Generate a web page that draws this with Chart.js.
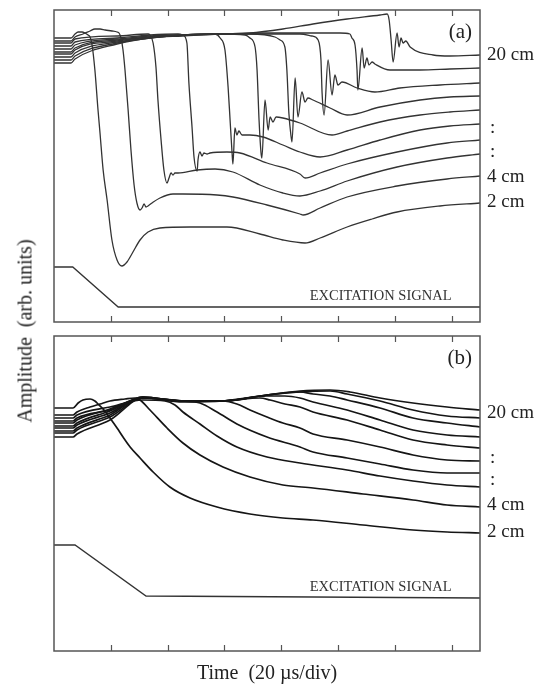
<!DOCTYPE html>
<html>
<head>
<meta charset="utf-8">
<script src="https://cdn.jsdelivr.net/npm/chart.js@4.4.1/dist/chart.umd.min.js"></script>
<style>
  html, body { margin: 0; padding: 0; background: #fff; }
  #wrap { position: relative; width: 545px; height: 689px; font-family: "Liberation Serif", "Times New Roman", serif; color: #222; }
  #chartA { position: absolute; left: 0; top: 0; }
  #chartB { position: absolute; left: 0; top: 330px; }
  #ytitle { position: absolute; left: 25px; top: 331px; transform: translate(-50%, -50%) rotate(-90deg); font-size: 20px; white-space: pre; }
  #xtitle { position: absolute; left: 54px; width: 426px; top: 660px; text-align: center; font-size: 20px; white-space: pre; line-height: 24px; }
</style>
</head>
<body>
<div id="wrap">
  <canvas id="chartA" width="545" height="330"></canvas>
  <canvas id="chartB" width="545" height="359"></canvas>
  <div id="ytitle">Amplitude  (arb. units)</div>
  <div id="xtitle">Time  (20 µs/div)</div>
</div>
<script>
// time in µs (20 µs per division), amplitude in arbitrary units
const timeTicks = [20, 40, 60, 80, 100, 120, 140];

// panel (a) traces, 2 cm ... 20 cm
const a02 = [[0,28.4],[6.0,28.4],[7.4,28.8],[8.5,29.0],[9.9,29.0],[10.9,28.9],[12.0,28.7],[12.7,28.5],[13.4,27.7],[14.4,25.2],[15.5,21.2],[16.2,18.9],[17.3,15.2],[18.7,12.2],[20.4,8.2],[22.2,6.2],[23.9,5.6],[25.7,6.0],[27.8,7.0],[30.3,8.2],[33.1,9.0],[37.3,9.4],[47.9,9.5],[60.9,9.5],[72.5,8.8],[80.6,8.2],[88.4,7.9],[93.7,8.4],[103.2,9.5],[112.0,10.3],[120.8,11.0],[135.9,11.6],[150,11.9]];
const a04 = [[0,28.1],[6.0,28.1],[7.4,28.5],[10.2,28.8],[12.7,29.1],[14.4,29.3],[16.2,29.3],[18.0,29.2],[20.4,29.1],[22.2,29.0],[22.9,28.9],[23.6,28.4],[24.3,27.2],[25.0,25.2],[26.1,21.2],[27.1,17.2],[28.2,13.7],[29.2,11.9],[30.3,11.2],[31.0,11.4],[31.7,11.8],[32.4,11.5],[33.1,11.6],[34.5,11.9],[37.3,12.4],[41.9,12.8],[45.4,12.8],[57.4,12.7],[63.0,12.5],[75.0,11.7],[86.6,10.8],[87.7,10.7],[93.7,11.4],[103.2,12.5],[120.8,13.6],[138.4,14.3],[150,14.6]];
const a06 = [[0,27.9],[6.0,27.9],[7.4,28.3],[22.2,28.6],[33.1,28.8],[33.8,28.7],[34.9,27.9],[35.9,25.5],[36.6,22.2],[37.7,18.2],[38.7,15.2],[39.8,13.9],[40.5,14.4],[41.2,14.9],[41.9,14.7],[42.6,14.9],[43.7,14.9],[50.4,15.2],[56.7,15.3],[63.0,15.0],[72.5,13.7],[80.6,12.9],[86.6,12.6],[93.7,13.1],[103.2,14.1],[120.8,15.5],[138.4,16.4],[150,16.8]];
const a08 = [[0,27.6],[6.0,27.6],[7.4,28.0],[22.2,28.4],[33.8,28.7],[43.7,28.8],[45.4,28.7],[46.8,27.9],[47.5,23.9],[48.6,19.5],[49.3,16.5],[50.4,15.1],[50.7,16.2],[51.4,17.0],[52.1,16.6],[52.8,16.9],[53.9,16.8],[54.9,16.9],[60.9,17.0],[65.5,16.9],[75.0,15.9],[86.6,14.8],[88.4,14.4],[93.7,14.9],[103.2,15.8],[120.8,17.0],[138.4,17.9],[150,18.2]];
const a10 = [[0,27.3],[6.0,27.3],[7.4,27.7],[22.2,28.3],[33.8,28.6],[45.4,28.7],[56.7,28.8],[58.5,28.4],[60.2,27.2],[61.3,23.5],[62.0,20.2],[62.7,16.9],[63.0,15.8],[63.7,19.4],[64.4,18.7],[65.1,19.1],[66.2,18.7],[69.0,18.7],[73.6,18.5],[80.6,17.7],[86.6,17.0],[93.7,16.5],[103.2,17.2],[114.8,18.2],[128.9,19.2],[139.4,19.6],[150,19.8]];
const a12 = [[0,27.0],[6.0,27.0],[7.4,27.4],[22.2,28.2],[33.8,28.5],[45.4,28.7],[58.5,28.8],[67.3,28.7],[69.0,28.4],[70.8,27.5],[71.5,25.2],[72.2,20.2],[72.9,16.9],[73.2,16.4],[74.3,22.2],[75.4,19.2],[76.1,20.5],[77.1,20.0],[78.2,20.5],[80.6,20.4],[86.6,19.9],[97.9,18.7],[103.2,19.1],[114.8,20.0],[128.9,20.7],[139.4,21.0],[150,21.2]];
const a14 = [[0,26.8],[6.0,26.8],[7.4,27.2],[22.2,28.1],[33.8,28.5],[45.4,28.7],[58.5,28.8],[69.0,28.8],[77.8,28.5],[79.6,28.2],[81.3,27.5],[82.0,25.2],[82.7,20.9],[83.5,18.5],[83.8,18.0],[84.9,24.4],[85.9,20.5],[87.3,23.0],[88.4,22.0],[89.4,22.4],[91.2,22.2],[97.2,21.4],[103.2,20.7],[114.8,21.5],[128.9,22.2],[139.4,22.5],[150,22.6]];
const a16 = [[0,26.5],[6.0,26.5],[7.4,26.9],[22.2,28.0],[33.8,28.4],[45.4,28.7],[58.5,28.8],[72.5,28.8],[86.6,28.8],[90.8,28.6],[93.0,28.2],[94.0,26.2],[94.4,22.9],[95.1,20.7],[96.5,26.2],[97.9,22.7],[98.9,24.7],[100.0,23.7],[101.4,24.0],[106.7,23.4],[113.0,23.0],[121.8,23.4],[135.9,23.7],[150,23.9]];
const a18 = [[0,26.2],[6.0,26.2],[7.4,26.6],[22.2,27.9],[33.8,28.4],[45.4,28.7],[58.5,28.8],[72.5,28.9],[86.6,28.9],[100.7,28.9],[104.2,28.8],[104.9,28.4],[106.0,27.7],[106.7,25.2],[107.0,23.2],[108.5,27.4],[109.2,25.4],[110.2,26.4],[110.9,25.7],[112.0,26.0],[113.0,25.8],[118.3,25.2],[128.9,25.2],[139.4,25.3],[150,25.4]];
const a20 = [[0,25.9],[6.0,25.9],[7.4,26.3],[22.2,27.8],[33.8,28.4],[45.4,28.6],[58.5,28.8],[69.0,28.9],[80.6,29.3],[91.2,29.8],[103.2,30.3],[114.8,30.7],[117.3,30.8],[118.0,30.2],[118.7,28.2],[119.4,26.0],[120.8,28.9],[121.5,27.5],[122.2,28.4],[122.9,27.9],[123.9,28.1],[125.4,27.5],[133.5,26.7],[139.4,26.6],[150,26.7]];
const excitationA = [[0,5.5],[6.6,5.5],[22.6,1.5],[150,1.5]];

// panel (b) traces, 2 cm ... 20 cm
const b02 = [[0,24.3],[6.7,24.3],[8.5,24.8],[10.2,25.1],[12.7,25.2],[14.4,25.0],[15.5,24.7],[17.6,24.1],[19.7,23.3],[22.2,22.3],[24.3,21.4],[26.8,20.4],[30.3,19.3],[34.9,17.9],[40.8,16.4],[47.9,15.3],[57.4,14.4],[69.0,13.7],[80.6,13.3],[91.2,13.1],[108.8,12.6],[126.4,12.1],[138.4,11.9],[150,11.8]];
const b04 = [[0,23.6],[6.7,23.6],[8.1,23.9],[12.7,24.4],[16.2,24.7],[19.7,25.0],[25.0,25.2],[28.5,25.3],[30.3,25.1],[33.8,24.1],[39.8,22.3],[45.4,20.8],[51.4,19.6],[59.5,18.4],[69.0,17.4],[80.6,16.6],[91.2,16.3],[108.8,15.7],[126.4,15.1],[138.4,14.6],[150,14.4]];
const b06 = [[0,23.3],[6.7,23.3],[8.1,23.6],[19.7,24.4],[31.3,25.1],[39.1,25.0],[42.6,24.6],[45.4,23.9],[51.4,22.7],[57.4,21.5],[64.4,20.4],[75.0,19.4],[86.6,18.8],[103.2,18.1],[114.8,17.5],[126.4,17.0],[138.4,16.6],[150,16.4]];
const b08 = [[0,23.0],[6.7,23.0],[8.1,23.3],[19.7,24.1],[31.3,25.3],[45.4,25.0],[51.4,24.8],[57.4,23.9],[64.4,22.7],[75.0,21.4],[86.6,20.4],[91.2,19.9],[103.2,19.3],[114.8,18.7],[126.4,18.1],[138.4,17.8],[150,17.8]];
const b10 = [[0,22.8],[6.7,22.8],[8.1,23.1],[19.7,24.2],[31.3,25.3],[45.4,25.0],[59.5,25.0],[64.4,24.7],[69.0,24.1],[75.0,23.4],[80.6,22.8],[86.6,22.3],[91.2,21.7],[103.2,21.1],[114.8,20.4],[126.4,19.6],[138.4,19.1],[150,19.0]];
const b12 = [[0,22.5],[6.7,22.5],[8.1,22.8],[19.7,24.0],[31.3,25.4],[45.4,25.0],[59.5,25.0],[72.5,25.3],[76.1,25.1],[81.3,24.7],[86.6,24.4],[91.2,23.9],[103.2,23.1],[114.8,22.1],[126.4,21.1],[138.4,20.6],[150,20.3]];
const b14 = [[0,22.3],[6.7,22.3],[8.1,22.6],[19.7,23.8],[31.3,25.4],[45.4,25.0],[59.5,25.0],[75.0,25.5],[81.3,25.5],[86.6,25.3],[91.2,24.9],[103.2,24.1],[114.8,23.1],[126.4,22.1],[138.4,21.6],[150,21.4]];
const b16 = [[0,22.0],[6.7,22.0],[8.1,22.3],[19.7,23.6],[31.3,25.4],[45.4,25.0],[59.5,25.0],[75.0,25.6],[86.6,25.9],[91.2,25.7],[97.2,25.5],[103.2,25.1],[114.8,24.3],[126.4,23.3],[138.4,22.8],[150,22.4]];
const b18 = [[0,21.8],[6.7,21.8],[8.1,22.1],[19.7,23.4],[31.3,25.3],[45.4,25.0],[59.5,25.0],[75.0,25.6],[86.6,25.9],[97.2,26.0],[103.2,25.7],[114.8,25.0],[126.4,24.1],[138.4,23.5],[150,23.3]];
const b20 = [[0,21.4],[6.7,21.4],[8.1,21.7],[19.7,23.1],[31.3,25.3],[45.4,24.9],[59.5,25.0],[75.0,25.6],[86.6,26.0],[97.2,26.1],[104.2,25.9],[114.8,25.3],[126.4,24.8],[138.4,24.4],[150,24.1]];
const excitationB = [[0,10.6],[7.4,10.6],[32.4,5.5],[150,5.3]];

// right-hand distance labels and their heights
const sideLabels = ['20 cm', ':', ':', '4 cm', '2 cm'];
const sideLabelAmpsA = [26.7, 19.4, 17.0, 14.5, 12.0];
const sideLabelAmpsB = [23.8, 19.3, 17.1, 14.6, 11.9];

const framePlugin = {
  id: 'frame',
  afterDatasetsDraw(chart, args, opts) {
    const { ctx, chartArea: a } = chart;
    const x = chart.scales.x, y = chart.scales.y;
    ctx.save();
    ctx.strokeStyle = '#555';
    ctx.lineWidth = 1.5;
    ctx.strokeRect(a.left, a.top, a.right - a.left, a.bottom - a.top);
    ctx.lineWidth = 1.2;
    ctx.beginPath();
    timeTicks.forEach(t => {
      const px = Math.round(x.getPixelForValue(t)) + 0.5;
      ctx.moveTo(px, a.top); ctx.lineTo(px, a.top + 6);
      ctx.moveTo(px, a.bottom); ctx.lineTo(px, a.bottom - 6);
    });
    ctx.stroke();

    ctx.fillStyle = '#222';
    ctx.textBaseline = 'middle';
    ctx.textAlign = 'left';
    ctx.font = '19px "Liberation Serif"';
    sideLabels.forEach((txt, i) => {
      const lx = a.right + (txt === ':' ? 10 : 7);
      ctx.fillText(txt, lx, y.getPixelForValue(opts.labelAmps[i]));
    });

    ctx.textAlign = 'right';
    ctx.font = '21px "Liberation Serif"';
    ctx.fillText(opts.tag, a.right - 8, y.getPixelForValue(opts.tagAmp));

    ctx.textAlign = 'center';
    ctx.font = '14.5px "Liberation Serif"';
    ctx.fillStyle = '#333';
    ctx.fillText('EXCITATION SIGNAL', x.getPixelForValue(115), y.getPixelForValue(opts.excAmp));
    ctx.restore();
  }
};

function makePanel(id, traces, excitation, yMax, padding, frameOpts, style) {
  const datasets = traces.map(tr => ({
    data: tr.map(p => ({ x: p[0], y: p[1] })),
    borderColor: style.color,
    borderWidth: style.width,
    pointRadius: 0,
    fill: false,
    cubicInterpolationMode: 'monotone'
  }));
  datasets.push({
    data: excitation.map(p => ({ x: p[0], y: p[1] })),
    borderColor: '#333',
    borderWidth: 1.3,
    pointRadius: 0,
    fill: false,
    tension: 0
  });
  return new Chart(document.getElementById(id), {
    type: 'line',
    data: { datasets: datasets },
    options: {
      responsive: false,
      animation: false,
      layout: { padding: padding },
      plugins: { legend: { display: false }, tooltip: { enabled: false }, frame: frameOpts },
      scales: {
        x: { type: 'linear', min: 0, max: 150, display: false },
        y: { type: 'linear', min: 0, max: yMax, display: false }
      }
    },
    plugins: [framePlugin]
  });
}

makePanel('chartA', [a02, a04, a06, a08, a10, a12, a14, a16, a18, a20], excitationA, 31.2,
  { left: 54, right: 65, top: 10, bottom: 8 },
  { labelAmps: sideLabelAmpsA, tag: '(a)', tagAmp: 29.0, excAmp: 2.6 },
  { color: '#333', width: 1.3 });

makePanel('chartB', [b02, b04, b06, b08, b10, b12, b14, b16, b18, b20], excitationB, 31.5,
  { left: 54, right: 65, top: 6, bottom: 38 },
  { labelAmps: sideLabelAmpsB, tag: '(b)', tagAmp: 29.3, excAmp: 6.4 },
  { color: '#151515', width: 1.7 });
</script>
</body>
</html>
